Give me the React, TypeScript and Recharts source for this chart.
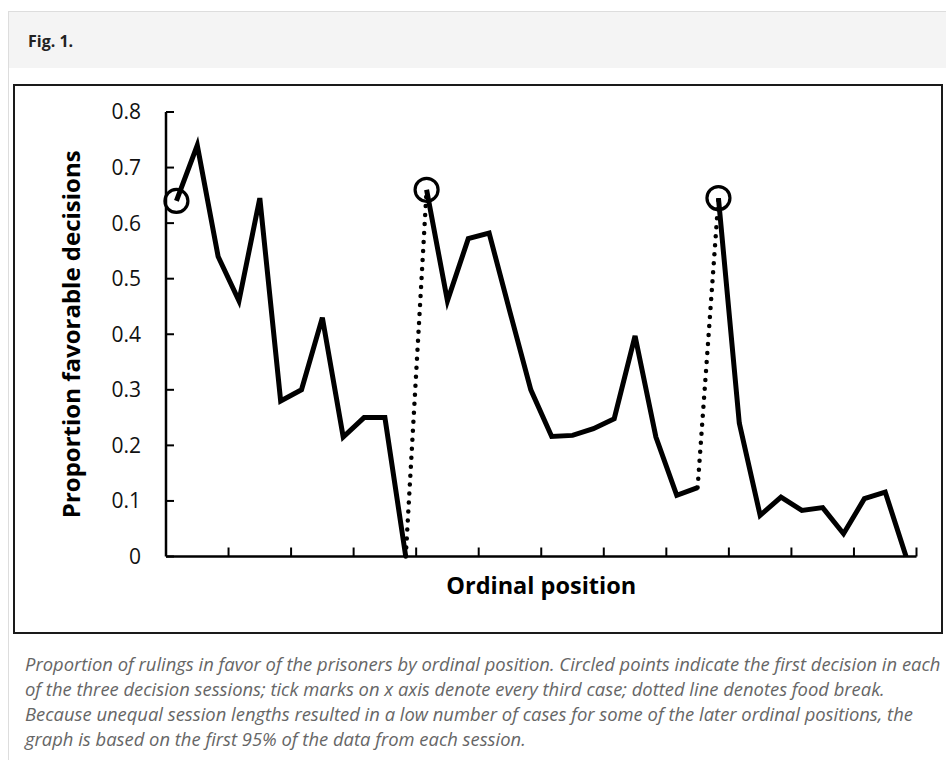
import { Label, Line, LineChart, XAxis, YAxis } from "recharts";

// proportion of favorable decisions per ordinal position, one array per session
const sessionOne = [0.64, 0.74, 0.54, 0.46, 0.645, 0.28, 0.3, 0.43, 0.215, 0.25, 0.25, 0];
const sessionTwo = [0.66, 0.46, 0.572, 0.582, 0.44, 0.3, 0.216, 0.218, 0.23, 0.248, 0.397, 0.215, 0.11, 0.124];
const sessionThree = [0.645, 0.24, 0.074, 0.107, 0.083, 0.088, 0.041, 0.104, 0.116, 0];

const yTicks = [0, 0.1, 0.2, 0.3, 0.4, 0.5, 0.6, 0.7, 0.8];
// every third case, on the boundaries between cases
const xTicks = [3.5, 6.5, 9.5, 12.5, 15.5, 18.5, 21.5, 24.5, 27.5, 30.5, 33.5, 36.5];

const captionLines = [
  "Proportion of rulings in favor of the prisoners by ordinal position. Circled points indicate the first decision in each",
  "of the three decision sessions; tick marks on x axis denote every third case; dotted line denotes food break.",
  "Because unequal session lengths resulted in a low number of cases for some of the later ordinal positions, the",
  "graph is based on the first 95% of the data from each session.",
];

const sessions = [sessionOne, sessionTwo, sessionThree];
const sessionKeys = ["s1", "s2", "s3"];

type Row = { pos: number; s1?: number; s2?: number; s3?: number; brk?: number };

const rows: Row[] = [];
const starts: number[] = [];
sessions.forEach((vals, s) => {
  starts.push(rows.length + 1);
  vals.forEach((v) => {
    rows.push({ pos: rows.length + 1, [sessionKeys[s]]: v } as Row);
  });
});
// food break: dotted link from the last case of a session to the first of the next
for (let s = 1; s < sessions.length; s++) {
  const prev = sessions[s - 1];
  rows[starts[s] - 2].brk = prev[prev.length - 1];
  rows[starts[s] - 1].brk = sessions[s][0];
}

const startDot = (props: any) => {
  const { cx, cy, payload, index } = props;
  if (cx == null || cy == null || !starts.includes(payload.pos)) {
    return <g key={`d-${index}`} />;
  }
  return <circle key={`d-${index}`} cx={cx} cy={cy} r={11.5} fill="none" stroke="#000" strokeWidth={3.2} />;
};

// x ticks carry no labels, only the tick marks
const noLabel = () => <g />;

const XTitle = (props: any) => {
  const vb = props.viewBox;
  return (
    <text
      x={vb.x + vb.width / 2}
      y={vb.y + 37.5}
      textAnchor="middle"
      fontFamily="Open Sans"
      fontWeight={700}
      fontSize={23.5}
      fill="#000"
    >
      Ordinal position
    </text>
  );
};

const YTitle = (props: any) => {
  const vb = props.viewBox;
  const x = vb.x + 65;
  const y = vb.y + vb.height / 2;
  return (
    <text
      x={x}
      y={y}
      transform={`rotate(-90 ${x} ${y})`}
      textAnchor="middle"
      fontFamily="Open Sans"
      fontWeight={700}
      fontSize={24}
      fill="#000"
    >
      Proportion favorable decisions
    </text>
  );
};

export default function App() {
  return (
    <div
      style={{
        position: "fixed",
        left: 0,
        top: 0,
        width: 946,
        height: 760,
        overflow: "hidden",
        background: "#fff",
        fontFamily: "Open Sans",
      }}
    >
      <div
        style={{
          position: "absolute",
          left: 8,
          top: 11,
          width: 980,
          height: 800,
          borderLeft: "1px solid #dddddd",
          borderTop: "1px solid #dddddd",
        }}
      />
      <div style={{ position: "absolute", left: 9, top: 12, width: 940, height: 56, background: "#f4f4f4" }} />
      <div
        style={{
          position: "absolute",
          left: 28,
          top: 30,
          fontSize: 16,
          lineHeight: "22px",
          fontWeight: 700,
          color: "#222",
        }}
      >
        Fig. 1.
      </div>

      <div
        style={{
          position: "absolute",
          left: 13,
          top: 84,
          width: 930,
          height: 550,
          boxSizing: "border-box",
          border: "2px solid #1a1a1a",
          background: "#fff",
        }}
      >
        <LineChart
          width={926}
          height={546}
          data={rows}
          margin={{ top: 26, right: 24.5, bottom: 35.5, left: 0 }}
        >
          <XAxis
            type="number"
            dataKey="pos"
            domain={[0.5, 36.5]}
            ticks={xTicks}
            interval={0}
            tick={noLabel}
            tickSize={-9}
            height={40}
            axisLine={{ stroke: "#000", strokeWidth: 2.5 }}
            tickLine={{ stroke: "#000", strokeWidth: 2 }}
          >
            <Label content={<XTitle />} />
          </XAxis>
          <YAxis
            type="number"
            domain={[0, 0.8]}
            ticks={yTicks}
            interval={0}
            width={151}
            tickSize={-8}
            tickMargin={33}
            tickFormatter={(v: number) => (v === 0 ? "0" : v.toFixed(1))}
            tick={{ fill: "#111", fontSize: 21, fontFamily: "Open Sans" }}
            axisLine={{ stroke: "#000", strokeWidth: 2.5 }}
            tickLine={{ stroke: "#000", strokeWidth: 2 }}
          >
            <Label content={<YTitle />} />
          </YAxis>
          <Line
            dataKey="brk"
            stroke="#000"
            strokeWidth={4.5}
            strokeDasharray="0 9"
            strokeLinecap="round"
            dot={false}
            activeDot={false}
            isAnimationActive={false}
          />
          {sessionKeys.map((k) => (
            <Line
              key={k}
              dataKey={k}
              stroke="#000"
              strokeWidth={5}
              dot={startDot}
              activeDot={false}
              isAnimationActive={false}
            />
          ))}
        </LineChart>
      </div>

      <div
        style={{
          position: "absolute",
          left: 25,
          top: 651,
          fontSize: 18.4,
          lineHeight: "25px",
          fontStyle: "italic",
          color: "#666",
          whiteSpace: "nowrap",
        }}
      >
        {captionLines.map((l) => (
          <div key={l}>{l}</div>
        ))}
      </div>
    </div>
  );
}
